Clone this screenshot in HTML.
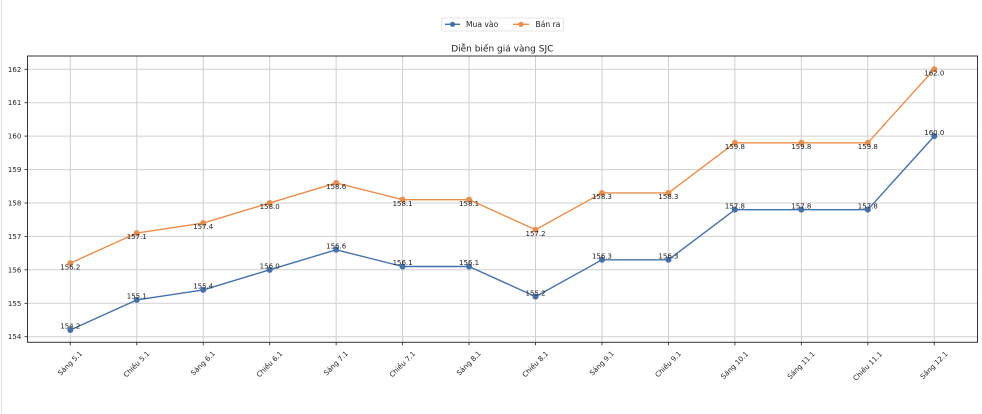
<!DOCTYPE html>
<html><head><meta charset="utf-8"><style>
html,body{margin:0;padding:0;background:#fff;}
svg{display:block;}
text{font-family:"DejaVu Sans","Liberation Sans",sans-serif;fill:#222;}
</style></head><body>
<svg width="982" height="414" viewBox="0 0 982 414" xmlns="http://www.w3.org/2000/svg">
<rect x="0" y="0" width="982" height="414" fill="#ffffff"/>
<line x1="1.5" y1="0" x2="1.5" y2="414" stroke="#e4e4e4" stroke-width="1"/>

<!-- legend -->
<rect x="441.7" y="18" width="121.6" height="13" fill="#fff" stroke="#dddddd" stroke-width="0.8" rx="2"/>
<line x1="445" y1="24.3" x2="460" y2="24.3" stroke="#4571aa" stroke-width="1.4"/>
<circle cx="452.5" cy="24.3" r="2.6" fill="#4571aa"/>
<text x="466" y="26.9" font-size="7.6">Mua vào</text>
<line x1="513" y1="24.3" x2="529" y2="24.3" stroke="#e98e4a" stroke-width="1.4"/>
<circle cx="521" cy="24.3" r="2.6" fill="#e98e4a"/>
<text x="535.5" y="26.9" font-size="7.6">Bán ra</text>

<!-- title -->
<text x="502.3" y="51.3" font-size="9" text-anchor="middle">Diễn biến giá vàng SJC</text>

<!-- grid -->
<g stroke="#cfcfd4" stroke-width="1">
<line x1="27.5" x2="977.5" y1="336.7" y2="336.7"/>
<line x1="27.5" x2="977.5" y1="303.3" y2="303.3"/>
<line x1="27.5" x2="977.5" y1="269.8" y2="269.8"/>
<line x1="27.5" x2="977.5" y1="236.4" y2="236.4"/>
<line x1="27.5" x2="977.5" y1="203.0" y2="203.0"/>
<line x1="27.5" x2="977.5" y1="169.6" y2="169.6"/>
<line x1="27.5" x2="977.5" y1="136.1" y2="136.1"/>
<line x1="27.5" x2="977.5" y1="102.7" y2="102.7"/>
<line x1="27.5" x2="977.5" y1="69.3" y2="69.3"/>
<line y1="56" y2="342.3" x1="70.3" x2="70.3"/>
<line y1="56" y2="342.3" x1="136.76" x2="136.76"/>
<line y1="56" y2="342.3" x1="203.22" x2="203.22"/>
<line y1="56" y2="342.3" x1="269.68" x2="269.68"/>
<line y1="56" y2="342.3" x1="336.14" x2="336.14"/>
<line y1="56" y2="342.3" x1="402.6" x2="402.6"/>
<line y1="56" y2="342.3" x1="469.06" x2="469.06"/>
<line y1="56" y2="342.3" x1="535.52" x2="535.52"/>
<line y1="56" y2="342.3" x1="601.98" x2="601.98"/>
<line y1="56" y2="342.3" x1="668.44" x2="668.44"/>
<line y1="56" y2="342.3" x1="734.9" x2="734.9"/>
<line y1="56" y2="342.3" x1="801.36" x2="801.36"/>
<line y1="56" y2="342.3" x1="867.82" x2="867.82"/>
<line y1="56" y2="342.3" x1="934.28" x2="934.28"/>
</g>

<!-- spines -->
<rect x="27.5" y="56" width="950" height="286.3" fill="none" stroke="#333" stroke-width="1"/>

<!-- y ticks -->
<g stroke="#333" stroke-width="0.9">
<line x1="24.5" x2="27.5" y1="336.7" y2="336.7"/>
<line x1="24.5" x2="27.5" y1="303.3" y2="303.3"/>
<line x1="24.5" x2="27.5" y1="269.8" y2="269.8"/>
<line x1="24.5" x2="27.5" y1="236.4" y2="236.4"/>
<line x1="24.5" x2="27.5" y1="203.0" y2="203.0"/>
<line x1="24.5" x2="27.5" y1="169.6" y2="169.6"/>
<line x1="24.5" x2="27.5" y1="136.1" y2="136.1"/>
<line x1="24.5" x2="27.5" y1="102.7" y2="102.7"/>
<line x1="24.5" x2="27.5" y1="69.3" y2="69.3"/>
</g>
<g font-size="7" text-anchor="end">
<text x="21.3" y="339.2">154</text>
<text x="21.3" y="305.8">155</text>
<text x="21.3" y="272.3">156</text>
<text x="21.3" y="238.9">157</text>
<text x="21.3" y="205.5">158</text>
<text x="21.3" y="172.1">159</text>
<text x="21.3" y="138.6">160</text>
<text x="21.3" y="105.2">161</text>
<text x="21.3" y="71.8">162</text>
</g>

<!-- x ticks -->
<g stroke="#333" stroke-width="0.9">
<line y1="342.3" y2="345.3" x1="70.3" x2="70.3"/>
<line y1="342.3" y2="345.3" x1="136.76" x2="136.76"/>
<line y1="342.3" y2="345.3" x1="203.22" x2="203.22"/>
<line y1="342.3" y2="345.3" x1="269.68" x2="269.68"/>
<line y1="342.3" y2="345.3" x1="336.14" x2="336.14"/>
<line y1="342.3" y2="345.3" x1="402.6" x2="402.6"/>
<line y1="342.3" y2="345.3" x1="469.06" x2="469.06"/>
<line y1="342.3" y2="345.3" x1="535.52" x2="535.52"/>
<line y1="342.3" y2="345.3" x1="601.98" x2="601.98"/>
<line y1="342.3" y2="345.3" x1="668.44" x2="668.44"/>
<line y1="342.3" y2="345.3" x1="734.9" x2="734.9"/>
<line y1="342.3" y2="345.3" x1="801.36" x2="801.36"/>
<line y1="342.3" y2="345.3" x1="867.82" x2="867.82"/>
<line y1="342.3" y2="345.3" x1="934.28" x2="934.28"/>
</g>
<g font-size="7" text-anchor="middle" dominant-baseline="central">
<text transform="translate(70.3,363.5) rotate(-45)">Sáng 5.1</text>
<text transform="translate(136.76,364.5) rotate(-45)">Chiều 5.1</text>
<text transform="translate(203.22,363.5) rotate(-45)">Sáng 6.1</text>
<text transform="translate(269.68,364.5) rotate(-45)">Chiều 6.1</text>
<text transform="translate(336.14,363.5) rotate(-45)">Sáng 7.1</text>
<text transform="translate(402.6,364.5) rotate(-45)">Chiều 7.1</text>
<text transform="translate(469.06,363.5) rotate(-45)">Sáng 8.1</text>
<text transform="translate(535.52,364.5) rotate(-45)">Chiều 8.1</text>
<text transform="translate(601.98,363.5) rotate(-45)">Sáng 9.1</text>
<text transform="translate(668.44,364.5) rotate(-45)">Chiều 9.1</text>
<text transform="translate(734.9,365.5) rotate(-45)">Sáng 10.1</text>
<text transform="translate(801.36,365.5) rotate(-45)">Sáng 11.1</text>
<text transform="translate(867.82,366.5) rotate(-45)">Chiều 11.1</text>
<text transform="translate(934.28,365.5) rotate(-45)">Sáng 12.1</text>
</g>

<!-- series: Mua vào -->
<polyline fill="none" stroke="#4571aa" stroke-width="1.4" stroke-linejoin="round"
points="70.3,330.01 136.76,299.93 203.22,289.9 269.68,269.84 336.14,249.78 402.6,266.5 469.06,266.5 535.52,296.58 601.98,259.81 668.44,259.81 734.9,209.67 801.36,209.67 867.82,209.67 934.28,136.12"/>
<g fill="#4571aa">
<circle cx="70.3" cy="330.01" r="3"/>
<circle cx="136.76" cy="299.93" r="3"/>
<circle cx="203.22" cy="289.9" r="3"/>
<circle cx="269.68" cy="269.84" r="3"/>
<circle cx="336.14" cy="249.78" r="3"/>
<circle cx="402.6" cy="266.5" r="3"/>
<circle cx="469.06" cy="266.5" r="3"/>
<circle cx="535.52" cy="296.58" r="3"/>
<circle cx="601.98" cy="259.81" r="3"/>
<circle cx="668.44" cy="259.81" r="3"/>
<circle cx="734.9" cy="209.67" r="3"/>
<circle cx="801.36" cy="209.67" r="3"/>
<circle cx="867.82" cy="209.67" r="3"/>
<circle cx="934.28" cy="136.12" r="3"/>
</g>

<!-- series: Bán ra -->
<polyline fill="none" stroke="#e98e4a" stroke-width="1.4" stroke-linejoin="round"
points="70.3,263.15 136.76,233.07 203.22,223.04 269.68,202.98 336.14,182.92 402.6,199.64 469.06,199.64 535.52,229.73 601.98,192.95 668.44,192.95 734.9,142.81 801.36,142.81 867.82,142.81 934.28,69.26"/>
<g fill="#e98e4a">
<circle cx="70.3" cy="263.15" r="3"/>
<circle cx="136.76" cy="233.07" r="3"/>
<circle cx="203.22" cy="223.04" r="3"/>
<circle cx="269.68" cy="202.98" r="3"/>
<circle cx="336.14" cy="182.92" r="3"/>
<circle cx="402.6" cy="199.64" r="3"/>
<circle cx="469.06" cy="199.64" r="3"/>
<circle cx="535.52" cy="229.73" r="3"/>
<circle cx="601.98" cy="192.95" r="3"/>
<circle cx="668.44" cy="192.95" r="3"/>
<circle cx="734.9" cy="142.81" r="3"/>
<circle cx="801.36" cy="142.81" r="3"/>
<circle cx="867.82" cy="142.81" r="3"/>
<circle cx="934.28" cy="69.26" r="3"/>
</g>

<!-- data labels -->
<g font-size="7" text-anchor="middle">
<text x="70.3" y="328.7">154.2</text>
<text x="136.76" y="298.6">155.1</text>
<text x="203.22" y="288.6">155.4</text>
<text x="269.68" y="268.5">156.0</text>
<text x="336.14" y="248.5">156.6</text>
<text x="402.6" y="265.2">156.1</text>
<text x="469.06" y="265.2">156.1</text>
<text x="535.52" y="295.3">155.2</text>
<text x="601.98" y="258.5">156.3</text>
<text x="668.44" y="258.5">156.3</text>
<text x="734.9" y="208.4">157.8</text>
<text x="801.36" y="208.4">157.8</text>
<text x="867.82" y="208.4">157.8</text>
<text x="934.28" y="134.8">160.0</text>

<text x="70.3" y="269.3">156.2</text>
<text x="136.76" y="239.2">157.1</text>
<text x="203.22" y="229.2">157.4</text>
<text x="269.68" y="209.2">158.0</text>
<text x="336.14" y="189.1">158.6</text>
<text x="402.6" y="205.8">158.1</text>
<text x="469.06" y="205.8">158.1</text>
<text x="535.52" y="235.9">157.2</text>
<text x="601.98" y="199.1">158.3</text>
<text x="668.44" y="199.1">158.3</text>
<text x="734.9" y="149">159.8</text>
<text x="801.36" y="149">159.8</text>
<text x="867.82" y="149">159.8</text>
<text x="934.28" y="75.4">162.0</text>
</g>
</svg>
</body></html>
